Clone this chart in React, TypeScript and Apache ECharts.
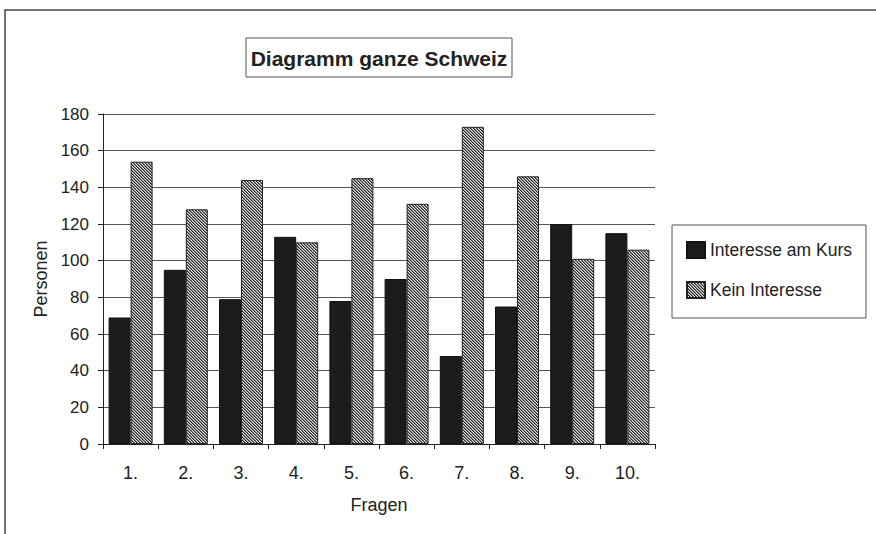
import React, { useEffect, useRef } from "react";
import * as echarts from "echarts";

const categories = ["1.", "2.", "3.", "4.", "5.", "6.", "7.", "8.", "9.", "10."];
const interesseAmKurs = [69, 95, 79, 113, 78, 90, 48, 75, 120, 115];
const keinInteresse = [154, 128, 144, 110, 145, 131, 173, 146, 101, 106];
const seriesNames = ["Interesse am Kurs", "Kein Interesse"];
const titleText = "Diagramm ganze Schweiz";
const xAxisName = "Fragen";
const yAxisName = "Personen";

const FONT = '"Liberation Sans", Arial, Helvetica, sans-serif';

function makeHatch(): string {
  const c = document.createElement("canvas");
  c.width = 3;
  c.height = 3;
  const ctx = c.getContext("2d")!;
  const img = ctx.createImageData(3, 3);
  const shades = [35, 130, 230];
  for (let y = 0; y < 3; y++) {
    for (let x = 0; x < 3; x++) {
      const v = shades[(x - y + 3) % 3];
      const i = (y * 3 + x) * 4;
      img.data[i] = v;
      img.data[i + 1] = v;
      img.data[i + 2] = v;
      img.data[i + 3] = 255;
    }
  }
  ctx.putImageData(img, 0, 0);
  return c.toDataURL("image/png");
}

export default function App() {
  const ref = useRef<HTMLDivElement>(null);
  useEffect(() => {
    document.body.style.margin = "0";
    if (!ref.current) return;
    const chart = echarts.init(ref.current, undefined, { renderer: "svg" });
    const hatch = { image: makeHatch(), repeat: "repeat" } as any;
    chart.setOption({
      animation: false,
      backgroundColor: "#ffffff",
      textStyle: { fontFamily: FONT, color: "#222" },
      graphic: [
        {
          type: "rect",
          shape: { x: 5, y: 10, width: 900, height: 600 },
          style: { fill: "none", stroke: "#444", lineWidth: 1.5 },
          silent: true,
        },
        {
          type: "rect",
          shape: { x: 246, y: 38, width: 266, height: 39 },
          style: { fill: "#fff", stroke: "#555", lineWidth: 1 },
          silent: true,
        },
        {
          type: "text",
          x: 379,
          y: 58,
          style: {
            text: titleText,
            fontFamily: FONT,
            fontSize: 21,
            fontWeight: "bold",
            fill: "#222",
            align: "center",
            verticalAlign: "middle",
          },
          silent: true,
        },
      ],
      legend: {
        orient: "vertical",
        left: 672,
        top: 225,
        padding: [15, 14, 18, 14],
        itemGap: 20,
        itemWidth: 18,
        itemHeight: 16,
        icon: "rect",
        borderColor: "#555",
        borderWidth: 1,
        backgroundColor: "#fff",
        textStyle: { fontFamily: FONT, fontSize: 17.5, color: "#222", lineHeight: 20 },
        data: seriesNames,
      },
      grid: { left: 103, right: 221, top: 114, bottom: 90, containLabel: false },
      xAxis: {
        type: "category",
        data: categories,
        boundaryGap: true,
        name: xAxisName,
        nameLocation: "middle",
        nameGap: 52,
        nameTextStyle: { fontFamily: FONT, fontSize: 18, color: "#222" },
        axisLine: { show: true, lineStyle: { color: "#222", width: 1 } },
        axisTick: { show: true, length: 5, alignWithLabel: false, lineStyle: { color: "#222" } },
        axisLabel: { margin: 20, fontFamily: FONT, fontSize: 18, color: "#222" },
        splitLine: { show: false },
      },
      yAxis: {
        type: "value",
        min: 0,
        max: 180,
        interval: 20,
        name: yAxisName,
        nameLocation: "middle",
        nameRotate: 90,
        nameGap: 51,
        nameTextStyle: { fontFamily: FONT, fontSize: 18, color: "#222" },
        axisLine: { show: true, lineStyle: { color: "#222", width: 1 } },
        axisTick: { show: true, length: 5, lineStyle: { color: "#222" } },
        axisLabel: { margin: 14, fontFamily: FONT, fontSize: 17, color: "#222" },
        splitLine: { show: true, lineStyle: { color: "#555", width: 1 } },
      },
      series: [
        {
          name: seriesNames[0],
          type: "bar",
          data: interesseAmKurs,
          barWidth: 22,
          barGap: "0%",
          itemStyle: { color: "#1c1c1c", borderColor: "#111", borderWidth: 1 },
        },
        {
          name: seriesNames[1],
          type: "bar",
          data: keinInteresse,
          barWidth: 22,
          barGap: "0%",
          itemStyle: { color: hatch, borderColor: "#222", borderWidth: 1 },
        },
      ],
    });
    return () => chart.dispose();
  }, []);
  return <div ref={ref} style={{ width: 876, height: 534 }} />;
}
